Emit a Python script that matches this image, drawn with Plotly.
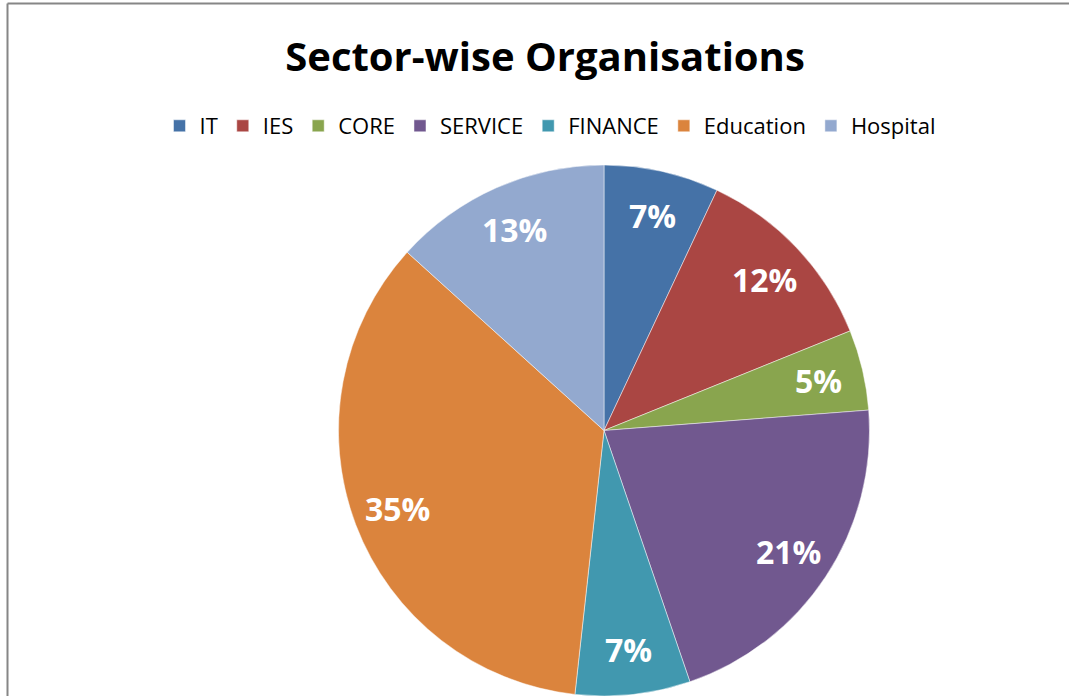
import math
import plotly.graph_objects as go

# Data (counts; labels show rounded percentages)
sectors = ["IT", "IES", "CORE", "SERVICE", "FINANCE", "Education", "Hospital"]
counts = [10, 17, 7, 30, 10, 50, 19]
colors = ["#4572A7", "#AA4643", "#89A54E", "#71588F", "#4198AF", "#DB843D", "#93A9CF"]

W, H = 1069, 696
FONT = "Open Sans"

# pie geometry (pixels) -> domain
CX, CY, R = 604.0, 430.5, 265.5
dom_x = [(CX - R) / W, (CX + R) / W]
dom_y = [1 - (CY + R) / H, 1 - (CY - R) / H]

fig = go.Figure(go.Pie(
    labels=sectors,
    values=counts,
    sort=False,
    direction="clockwise",
    rotation=0,
    marker=dict(colors=colors, line=dict(color="rgba(255,255,255,0.6)", width=0.8)),
    textinfo="none",
    hoverinfo="label+value+percent",
    domain=dict(x=dom_x, y=dom_y),
))

# data labels placed Excel-style at a fixed fraction of the radius, from the values
total = sum(counts)
annotations = []
cum = 0.0
for v in counts:
    mid = (cum + v / 2) / total
    cum += v
    ang = 2 * math.pi * mid
    px = CX + 0.83 * R * math.sin(ang)
    py = CY - 0.83 * R * math.cos(ang)
    annotations.append(dict(
        x=px / W, y=1 - py / H, xref="paper", yref="paper",
        text=f"<b>{round(100 * v / total)}%</b>", showarrow=False,
        xanchor="center", yanchor="middle",
        font=dict(family=FONT, size=32, color="white"),
    ))

fig.update_layout(
    width=W, height=H,
    margin=dict(l=0, r=0, t=0, b=0),
    paper_bgcolor="white",
    plot_bgcolor="white",
    title=dict(
        text="<b>Sector-wise Organisations</b>",
        x=545 / W, xanchor="center", xref="paper",
        y=1 - 57 / H, yanchor="middle", yref="paper",
        font=dict(family=FONT, size=40, color="black"),
    ),
    legend=dict(
        orientation="h",
        x=550 / W, xanchor="center",
        y=1 - 126 / H, yanchor="middle",
        font=dict(family=FONT, size=22, color="black"),
        traceorder="normal",
    ),
    showlegend=True,
    annotations=annotations,
    shapes=[
        dict(type="line", xref="paper", yref="paper",
             x0=7.5 / W, x1=7.5 / W, y0=0, y1=1 - 3.5 / H,
             line=dict(color="#868686", width=2)),
        dict(type="line", xref="paper", yref="paper",
             x0=7.5 / W, x1=1, y0=1 - 3.5 / H, y1=1 - 3.5 / H,
             line=dict(color="#868686", width=2)),
    ],
)

fig.write_html("out.html", config={"displayModeBar": False},
               post_script="document.body.style.margin='0';")
